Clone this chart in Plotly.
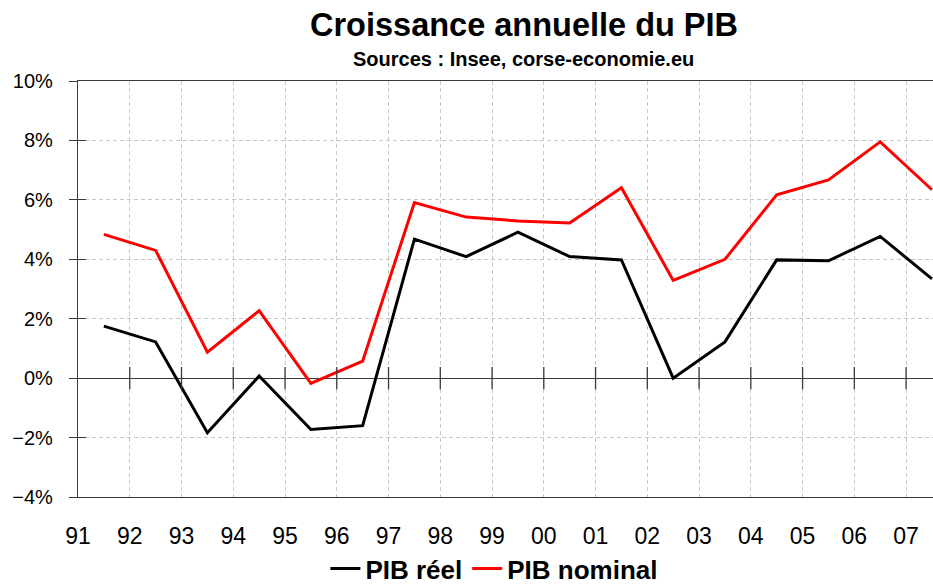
import plotly.graph_objects as go

years = ["91", "92", "93", "94", "95", "96", "97", "98", "99", "00", "01", "02", "03", "04", "05", "06", "07"]
pib_reel = [1.75, 1.22, -1.84, 0.07, -1.73, -1.60, 4.68, 4.09, 4.91, 4.09, 3.98, 0.00, 1.22, 3.98, 3.95, 4.77, 3.34]
pib_nominal = [4.84, 4.30, 0.87, 2.27, -0.18, 0.57, 5.91, 5.42, 5.29, 5.22, 6.41, 3.29, 4.00, 6.17, 6.67, 7.95, 6.34]

FONT = "Liberation Sans, Arial, sans-serif"
AXC = "#3a3a3a"
GRIDC = "#c6c6c6"
GRIDDASH = "4px,3px"

n = len(years)
label_pos = list(range(n))                 # year labels at boundaries
data_pos = [i + 0.5 for i in range(n)]     # values plotted mid-year

PLOT_H = 416

fig = go.Figure()
fig.add_trace(go.Scatter(x=data_pos, y=pib_reel, mode="lines", name="PIB réel",
                         line=dict(color="#000000", width=3)))
fig.add_trace(go.Scatter(x=data_pos, y=pib_nominal, mode="lines", name="PIB nominal",
                         line=dict(color="#ff0000", width=3)))
# crossing tick marks on the zero line
fig.add_trace(go.Scatter(x=label_pos[1:], y=[0] * (n - 1), mode="markers", showlegend=False,
                         hoverinfo="skip",
                         marker=dict(symbol="line-ns", size=16, line=dict(color=AXC, width=1.3))))

fig.update_layout(
    width=933, height=585,
    margin=dict(l=78, r=0, t=81, b=88, autoexpand=False),
    paper_bgcolor="white", plot_bgcolor="white",
    font=dict(family=FONT, color="#000000"),
    showlegend=True,
    legend=dict(orientation="h", x=0.487, xanchor="center", y=-0.172, yanchor="middle",
                font=dict(size=26, family=FONT, weight="bold"), itemwidth=30,
                bgcolor="rgba(0,0,0,0)"),
    xaxis=dict(range=[0, 16.52], tickmode="array", tickvals=label_pos, ticktext=years,
               showgrid=True, gridcolor=GRIDC, griddash=GRIDDASH, gridwidth=1,
               showline=True, linecolor=AXC, linewidth=1.3, mirror=True,
               ticks="outside", ticklen=18, tickcolor="rgba(0,0,0,0)",
               tickfont=dict(size=23, family=FONT), zeroline=False, fixedrange=True,
               automargin=False),
    yaxis=dict(range=[-4, 10], dtick=2, tick0=0, ticksuffix="%",
               showgrid=True, gridcolor=GRIDC, griddash=GRIDDASH, gridwidth=1,
               showline=True, linecolor=AXC, linewidth=1.3,
               ticks="outside", ticklen=8, tickcolor=AXC, tickwidth=1.3,
               ticklabelstandoff=12,
               tickfont=dict(size=20, family=FONT),
               zeroline=True, zerolinecolor=AXC, zerolinewidth=1.3, fixedrange=True,
               automargin=False),
    yaxis2=dict(range=[-4, 10], dtick=2, tick0=0, overlaying="y", side="left",
                showgrid=False, showline=False, zeroline=False, showticklabels=False,
                ticks="inside", ticklen=8, tickcolor=AXC, tickwidth=1.3, fixedrange=True,
                automargin=False),
    annotations=[
        dict(text="Croissance annuelle du PIB", xref="paper", yref="paper",
             x=0.5216, y=(81 - 25) / PLOT_H + 1, xanchor="center", yanchor="middle",
             showarrow=False, font=dict(size=32.5, family=FONT, weight="bold")),
        dict(text="Sources : Insee, corse-economie.eu", xref="paper", yref="paper",
             x=0.5216, y=(81 - 59) / PLOT_H + 1, xanchor="center", yanchor="middle",
             showarrow=False, font=dict(size=20, family=FONT, weight="bold")),
    ],
)
# invisible trace to activate yaxis2 ticks
fig.add_trace(go.Scatter(x=[None], y=[None], yaxis="y2", showlegend=False, hoverinfo="skip"))

fig.write_html("out.html", config={"displayModeBar": False},
               post_script="document.body.style.margin='0';document.body.style.overflow='hidden';")
